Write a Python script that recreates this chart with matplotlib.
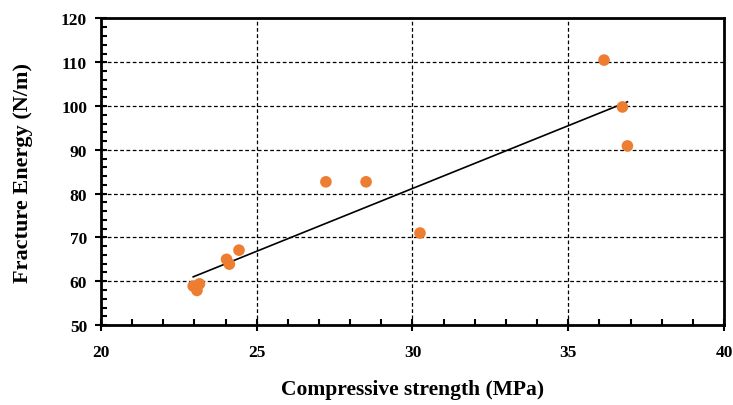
import numpy as np
import matplotlib
matplotlib.use("Agg")
import matplotlib.pyplot as plt
from matplotlib.ticker import MultipleLocator

strength = [22.96, 23.16, 23.08, 24.03, 24.12, 24.43, 27.22, 28.51, 30.24, 36.15, 36.74, 36.90]
energy = [58.9, 59.4, 57.9, 65.0, 63.9, 67.1, 82.7, 82.7, 71.0, 110.5, 99.8, 90.9]

plt.rcParams['font.family'] = ['Liberation Serif', 'DejaVu Serif']
plt.rcParams['font.weight'] = 'bold'

fig = plt.figure(figsize=(7.33, 4.06), dpi=100)
ax = fig.add_axes([0.1378, 0.197, 0.8499, 0.755])

x = np.array(strength)
y = np.array(energy)
m, b = np.polyfit(x, y, 1)
xs = np.array([x.min(), x.max()])
ax.plot(xs, m * xs + b, color='black', lw=1.2, zorder=3)
ax.scatter(x, y, s=70, color='#ED7D31', zorder=4, edgecolors='none')

ax.set_xlim(20, 40)
ax.set_ylim(50, 120)
ax.xaxis.set_major_locator(MultipleLocator(5))
ax.xaxis.set_minor_locator(MultipleLocator(1))
ax.yaxis.set_major_locator(MultipleLocator(10))
ax.yaxis.set_minor_locator(MultipleLocator(2))
ax.grid(True, which='major', color='black', linestyle=(0, (3, 2)), lw=0.9)
ax.set_axisbelow(True)

for s in ax.spines.values():
    s.set_linewidth(2)
ax.tick_params(which='major', direction='inout', length=8, width=1.5, labelsize=12.5)
ax.tick_params(which='minor', direction='in', length=4, width=1.5)
ax.tick_params(axis='x', which='major', pad=10)
ax.tick_params(axis='y', which='major', pad=6)
for lab in ax.get_xticklabels() + ax.get_yticklabels():
    lab.set_fontweight('bold')

ax.set_xlabel('Compressive strength (MPa)', fontsize=15.5, fontweight='bold', labelpad=13)
ax.set_ylabel('Fracture Energy (N/m)', fontsize=16, fontweight='bold', labelpad=20)

fig.savefig('out.png', dpi=100)
